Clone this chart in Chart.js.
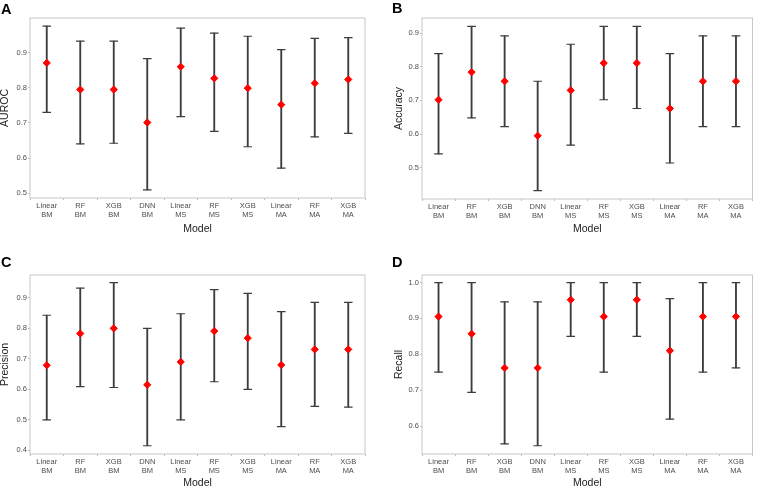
<!DOCTYPE html>
<html>
<head>
<meta charset="utf-8">
<script src="https://cdn.jsdelivr.net/npm/chart.js@4.4.1/dist/chart.umd.min.js"></script>
<style>
  html, body { margin: 0; padding: 0; background: #fff; }
  body { width: 758px; height: 488px; position: relative; overflow: hidden; font-family: 'Liberation Sans', Arial, sans-serif; }
  .panel { position: absolute; width: 379px; height: 244px; }
  .tag { position: absolute; font-weight: bold; font-size: 14.5px; line-height: 1; color: #000; }
</style>
</head>
<body>
<div class="panel" style="left:0;top:0"><canvas id="chartA"></canvas></div>
<div class="panel" style="left:379px;top:0"><canvas id="chartB"></canvas></div>
<div class="panel" style="left:0;top:244px"><canvas id="chartC"></canvas></div>
<div class="panel" style="left:379px;top:244px"><canvas id="chartD"></canvas></div>
<div class="tag" style="left:1px;top:2px">A</div>
<div class="tag" style="left:392px;top:1px">B</div>
<div class="tag" style="left:1px;top:255px">C</div>
<div class="tag" style="left:392px;top:255px">D</div>
<script>
const models = [
    ['Linear', 'BM'], ['RF', 'BM'], ['XGB', 'BM'], ['DNN', 'BM'],
    ['Linear', 'MS'], ['RF', 'MS'], ['XGB', 'MS'],
    ['Linear', 'MA'], ['RF', 'MA'], ['XGB', 'MA']
];

const aurocMean = [0.871, 0.795, 0.795, 0.701, 0.860, 0.827, 0.799, 0.752, 0.813, 0.824];
const aurocLow  = [0.730, 0.640, 0.642, 0.509, 0.718, 0.676, 0.632, 0.571, 0.660, 0.670];
const aurocHigh = [0.976, 0.933, 0.933, 0.883, 0.970, 0.956, 0.947, 0.909, 0.941, 0.943];

const accMean = [0.702, 0.784, 0.757, 0.595, 0.730, 0.811, 0.811, 0.676, 0.757, 0.757];
const accLow  = [0.541, 0.648, 0.622, 0.432, 0.567, 0.702, 0.676, 0.514, 0.622, 0.622];
const accHigh = [0.839, 0.920, 0.892, 0.757, 0.867, 0.920, 0.920, 0.839, 0.892, 0.892];

const precMean = [0.679, 0.783, 0.800, 0.615, 0.690, 0.791, 0.768, 0.680, 0.731, 0.731];
const precLow  = [0.500, 0.609, 0.606, 0.415, 0.500, 0.625, 0.600, 0.478, 0.544, 0.542];
const precHigh = [0.843, 0.932, 0.950, 0.800, 0.848, 0.927, 0.915, 0.855, 0.885, 0.885];

const recMean = [0.905, 0.857, 0.762, 0.762, 0.952, 0.905, 0.952, 0.810, 0.905, 0.905];
const recLow  = [0.750, 0.694, 0.550, 0.545, 0.850, 0.750, 0.850, 0.619, 0.750, 0.762];
const recHigh = [1.000, 1.000, 0.946, 0.946, 1.000, 1.000, 1.000, 0.955, 1.000, 1.000];

const fontFamily = "'Liberation Sans', Arial, sans-serif";
const barColor = '#3d3d3d';

// light grey box round the plot area
const frame = {
    id: 'frame',
    beforeDatasetsDraw(chart) {
        const {ctx, chartArea: a} = chart;
        ctx.save();
        ctx.strokeStyle = '#c8c8c8';
        ctx.lineWidth = 1;
        ctx.strokeRect(a.left, a.top, a.right - a.left, a.bottom - a.top);
        ctx.restore();
    }
};

function makePanel(id, yTitle, mean, low, high, yMin, yMax, box) {
    const capStyle = {
        type: 'line',
        showLine: false,
        pointStyle: 'line',
        pointRadius: 4.3,
        pointBorderWidth: 1.2,
        pointBorderColor: barColor,
        borderColor: barColor,
        order: 1
    };
    return new Chart(document.getElementById(id), {
        type: 'bar',
        data: {
            labels: models,
            datasets: [
                {
                    label: 'mean',
                    type: 'line',
                    data: mean,
                    showLine: false,
                    pointStyle: 'rectRot',
                    pointRadius: 3.6,
                    pointBackgroundColor: '#ff0000',
                    pointBorderColor: '#ff0000',
                    pointBorderWidth: 1,
                    order: 0
                },
                Object.assign({label: 'low', data: low}, capStyle),
                Object.assign({label: 'high', data: high}, capStyle),
                {
                    label: 'ci',
                    data: low.map((v, i) => [v, high[i]]),
                    backgroundColor: barColor,
                    borderWidth: 0,
                    barThickness: 1.2,
                    order: 2
                }
            ]
        },
        options: {
            responsive: true,
            maintainAspectRatio: false,
            animation: false,
            layout: { padding: { top: box.top, right: box.right, left: 0, bottom: 0 } },
            plugins: { legend: { display: false }, tooltip: { enabled: false } },
            scales: {
                x: {
                    offset: true,
                    grid: { display: true, drawOnChartArea: false, tickLength: 2, color: '#bdbdbd' },
                    border: { display: false },
                    ticks: {
                        font: { family: fontFamily, size: 7.5 },
                        color: '#4d4d4d',
                        padding: 1,
                        maxRotation: 0,
                        autoSkip: false
                    },
                    title: {
                        display: true,
                        text: 'Model',
                        color: '#222',
                        font: { family: fontFamily, size: 10.5, lineHeight: 1 },
                        padding: { top: 0, bottom: box.modelPad }
                    },
                    afterFit: (s) => { s.height = box.xHeight; }
                },
                y: {
                    min: yMin,
                    max: yMax,
                    grid: { display: true, drawOnChartArea: false, tickLength: 2, color: '#bdbdbd' },
                    border: { display: false },
                    ticks: {
                        stepSize: 0.1,
                        includeBounds: false,
                        font: { family: fontFamily, size: 7.5 },
                        color: '#4d4d4d',
                        padding: 1
                    },
                    title: {
                        display: true,
                        text: yTitle,
                        color: '#222',
                        font: { family: fontFamily, size: 10.5, lineHeight: 1 },
                        padding: { top: box.titlePad, bottom: 0 }
                    },
                    afterFit: (s) => { s.width = box.yWidth; }
                }
            }
        },
        plugins: [frame]
    });
}

makePanel('chartA', 'AUROC', aurocMean, aurocLow, aurocHigh, 0.486, 0.999,
    { top: 18, right: 14, yWidth: 30, xHeight: 46, modelPad: 10, titlePad: 0 });
makePanel('chartB', 'Accuracy', accMean, accLow, accHigh, 0.407, 0.945,
    { top: 18, right: 2, yWidth: 43, xHeight: 45, modelPad: 10, titlePad: 15 });
makePanel('chartC', 'Precision', precMean, precLow, precHigh, 0.388, 0.975,
    { top: 31, right: 14, yWidth: 30, xHeight: 34, modelPad: 0, titlePad: 0 });
makePanel('chartD', 'Recall', recMean, recLow, recHigh, 0.522, 1.021,
    { top: 31, right: 2, yWidth: 43, xHeight: 34, modelPad: 0, titlePad: 15 });
</script>
</body>
</html>
